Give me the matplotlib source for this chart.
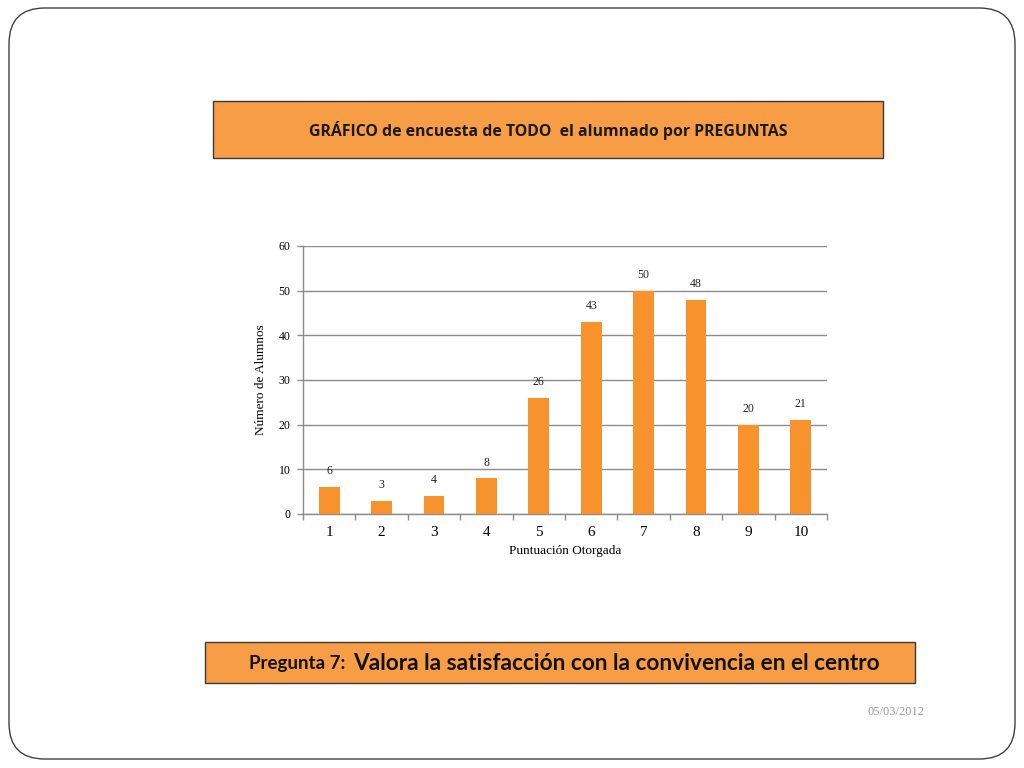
import matplotlib
matplotlib.use("Agg")
import matplotlib.pyplot as plt
from matplotlib.patches import FancyBboxPatch, Rectangle

categories = [1, 2, 3, 4, 5, 6, 7, 8, 9, 10]
values = [6, 3, 4, 8, 26, 43, 50, 48, 20, 21]
yticks = [0, 10, 20, 30, 40, 50, 60]
title_top = "GRÁFICO de encuesta de TODO  el alumnado por PREGUNTAS"
q_prefix = "Pregunta 7:"
q_text = "Valora la satisfacción con la convivencia en el centro"
date_text = "05/03/2012"
xlabel = "Puntuación Otorgada"
ylabel = "Número de Alumnos"

W, H = 1024, 768
fig = plt.figure(figsize=(W / 100, H / 100), dpi=100)
fig.patch.set_facecolor("white")

def fx(x):
    return x / W

def fy(y):
    return 1 - y / H

# slide border
fig.patches.append(FancyBboxPatch((fx(9), fy(759)), fx(1006), 751 / H,
                                  boxstyle="round,pad=0,rounding_size=0.035",
                                  transform=fig.transFigure, fill=False,
                                  edgecolor="#404040", linewidth=1.0,
                                  mutation_aspect=W / H))

orange_box = "#F79D45"
# top title box
fig.patches.append(Rectangle((fx(213), fy(158)), fx(883 - 213), 57 / H,
                             transform=fig.transFigure, facecolor=orange_box,
                             edgecolor="#3a3a3a", linewidth=1.0))
fig.text(fx(548), fy(130), title_top, ha="center", va="center",
         fontsize=11.4, fontweight="bold", family="Open Sans", color="#1a1a1a")

# bottom question box
fig.patches.append(Rectangle((fx(205), fy(683)), fx(915 - 205), 41 / H,
                             transform=fig.transFigure, facecolor=orange_box,
                             edgecolor="#3a3a3a", linewidth=1.0))
fig.text(fx(345), fy(664), q_prefix, ha="right", va="center",
         fontsize=13.5, fontweight="bold", family="Lato", color="#111111")
fig.text(fx(353), fy(663), q_text, ha="left", va="center",
         fontsize=16.3, fontweight="bold", family="Lato", color="#111111")

# date
fig.text(fx(925), fy(712), date_text, ha="right", va="center",
         fontsize=9, family="Liberation Serif", color="#9a9a9a")

# chart
ax = fig.add_axes([fx(303), fy(514), fx(827 - 303), (514 - 246) / H])
bar_color = "#F7922D"
ax.bar(categories, values, width=0.4, color=bar_color, zorder=3)
ax.set_xlim(0.5, 10.5)
ax.set_ylim(0, 60)
ax.set_yticks(yticks)
ax.set_yticklabels([str(t) for t in yticks], fontsize=8.5,
                   family="Liberation Serif")
ax.set_xticks(categories)
ax.set_xticklabels([str(c) for c in categories], fontsize=11,
                   family="Liberation Serif")
ax.set_xticks([c + 0.5 for c in categories[:-1]] + [0.5, 10.5], minor=True)
ax.tick_params(axis="x", which="major", length=0, pad=9)
ax.tick_params(axis="x", which="minor", length=4, color="#8c8c8c", width=1)
ax.tick_params(axis="y", length=4, color="#8c8c8c", width=1, pad=5)
ax.grid(axis="y", color="#8c8c8c", linewidth=1, zorder=0)
for s in ["top", "right"]:
    ax.spines[s].set_visible(False)
for s in ["left", "bottom"]:
    ax.spines[s].set_color("#8c8c8c")
    ax.spines[s].set_linewidth(1)
ax.set_axisbelow(True)

for c, v in zip(categories, values):
    ax.annotate(str(v), (c, v), xytext=(0, 7), textcoords="offset points",
                ha="center", va="bottom", fontsize=8.5,
                family="Liberation Serif", color="#222222")

ax.set_xlabel(xlabel, fontsize=9.5, family="Liberation Serif", labelpad=4)
ax.set_ylabel(ylabel, fontsize=9.5, family="Liberation Serif", labelpad=8)

fig.savefig("out.png", dpi=100)
